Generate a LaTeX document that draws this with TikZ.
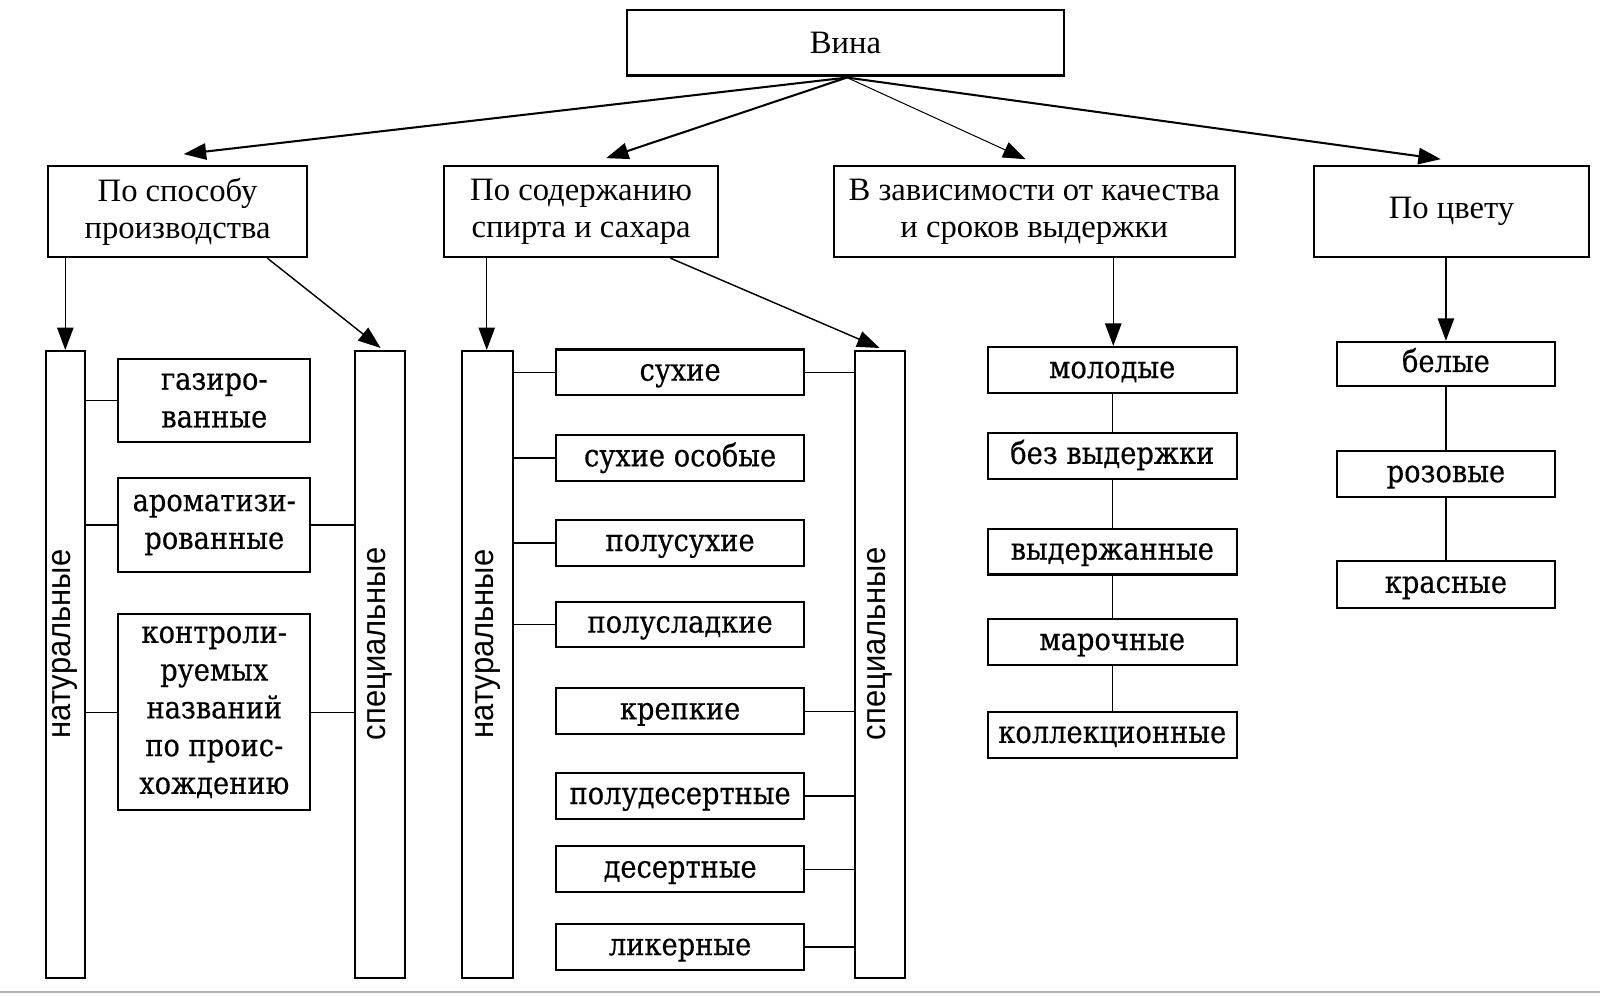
\documentclass[tikz,border=0pt]{standalone}
\usepackage{fontspec}
\setmainfont{Liberation Serif}
\newfontfamily\lowf[FakeStretch=0.88,FakeBold=0.4]{DejaVu Serif}
\newfontfamily\barf[FakeStretch=0.92]{Liberation Sans}
\usetikzlibrary{arrows.meta}
\begin{document}
\begin{tikzpicture}[x=0.5pt,y=-0.5pt,
  box/.style={draw,line width=1pt,inner sep=0pt,align=center},
  topbox/.style={box,font=\fontsize{16pt}{18.5pt}\selectfont},
  lowbox/.style={box,font=\lowf\fontsize{15.2pt}{18.5pt}\selectfont},
  lowone/.style={draw,line width=1pt,inner sep=0pt,text height=11pt,text depth=3pt,font=\lowf\fontsize{15.2pt}{18.5pt}\selectfont},
  bar/.style={draw,line width=1pt,inner sep=0pt},
  bartext/.style={rotate=90,inner sep=0pt,font=\barf\fontsize{16.5pt}{18pt}\selectfont},
  tip/.style={-{Triangle[length=11pt,width=8pt]}},
  arr/.style={line width=1pt,tip},
  thinarr/.style={line width=0.5pt,tip},
  conn/.style={line width=0.7pt}]
\useasboundingbox (0,0) rectangle (1568,976);
\fill[white] (0,0) rectangle (1568,976);
\draw[gray!60,line width=1pt] (0,972) -- (1568,972);

% top
\node[topbox,minimum width=214.5pt,minimum height=32pt] (vina) at (828.5,42) {Вина};
\node[topbox,minimum width=127pt,minimum height=44.5pt] (p1) at (174,207.5) {По способу\\производства};
\node[topbox,minimum width=134.5pt,minimum height=44.5pt] (p2) at (569.5,207.5) {По содержанию\\спирта и сахара};
\node[topbox,minimum width=196.5pt,minimum height=44.5pt] (p3) at (1013.5,207.5) {В зависимости от качества\\и сроков выдержки};
\node[topbox,minimum width=134.5pt,minimum height=44.5pt] (p4) at (1422.5,207.5) {По цвету};

\coordinate (vs) at (830,76);
\coordinate (t1) at (180,151);
\coordinate (t2) at (594,155);
\coordinate (t3) at (1005,156);
\coordinate (t4) at (1412,156);
\draw[arr] (vs) -- (t1);
\draw[arr] (vs) -- (t2);
\draw[thinarr] (vs) -- (t3);
\draw[arr] (vs) -- (t4);

% left group
\node[bar,minimum width=19pt,minimum height=307pt] (n1) at (64,651) {};
\node[bartext] (n1t) at (64,631) {натуральные};
\node[bar,minimum width=24.5pt,minimum height=307pt] (s1) at (372.5,651) {};
\node[bartext] (s1t) at (372.5,631) {специальные};
\node[lowbox,minimum width=94pt,minimum height=40.5pt] (g1) at (210,392.5) {газиро-\\ванные};
\node[lowbox,minimum width=94pt,minimum height=46.5pt] (a1) at (210,514.5) {ароматизи-\\рованные};
\node[lowbox,minimum width=94pt,minimum height=96pt] (k1) at (210,698) {контроли-\\руемых\\названий\\по проис-\\хождению};

\coordinate (p1a) at (64,253);
\coordinate (p1b) at (262,253);
\coordinate (t11) at (64,343);
\coordinate (t12) at (373,341);
\draw[conn,tip] (p1a) -- (t11);
\draw[conn,tip] (p1b) -- (t12);

\draw[conn] (g1.west) -- (g1.west -| n1.east);
\draw[conn] (a1.west) -- (a1.west -| n1.east);
\draw[conn] (k1.west) -- (k1.west -| n1.east);
\draw[conn] (a1.east) -- (a1.east -| s1.west);
\draw[conn] (k1.east) -- (k1.east -| s1.west);

% middle group
\node[bar,minimum width=25pt,minimum height=307pt] (n2) at (478,651) {};
\node[bartext] (n2t) at (478,631) {натуральные};
\node[bar,minimum width=24.5pt,minimum height=307pt] (s2) at (862.5,651) {};
\node[bartext] (s2t) at (862.5,631) {специальные};
\foreach \nm/\yy/\tx in {m1/365/сухие, m2/449/сухие особые, m3/532/полусухие, m4/612/полусладкие, m5/697/крепкие, m6/780/полудесертные, m7/852/десертные, m8/928/ликерные}
  \node[lowone,minimum width=121.5pt,minimum height=22.5pt] (\nm) at (666.5,\yy) {\tx};

\coordinate (p2a) at (477,253);
\coordinate (p2b) at (657,253);
\coordinate (t21) at (477,343);
\coordinate (t22) at (862,341);
\draw[conn,tip] (p2a) -- (t21);
\draw[conn,tip] (p2b) -- (t22);

\foreach \nm in {m1,m2,m3,m4}
  \draw[conn] (\nm.west) -- (\nm.west -| n2.east);
\foreach \nm in {m1,m5,m6,m7,m8}
  \draw[conn] (\nm.east) -- (\nm.east -| s2.west);

% quality group
\foreach \nm/\yy/\tx in {q1/362.5/молодые, q2/446.5/без выдержки, q3/540.5/выдержанные, q4/629/марочные, q5/720/коллекционные}
  \node[lowone,minimum width=122pt,minimum height=22.5pt] (\nm) at (1090,\yy) {\tx};
\coordinate (p3a) at (1091,253);
\draw[conn,tip] (p3a) -- (p3a |- q1.north);
\draw[conn] (q1.south) -- (q2.north) (q2.south) -- (q3.north) (q3.south) -- (q4.north) (q4.south) -- (q5.north);

% colour group
\node[lowone,minimum width=106.5pt,minimum height=21.5pt] (c1) at (1417,356.5) {белые};
\node[lowone,minimum width=106.5pt,minimum height=22.5pt] (c2) at (1417,464.5) {розовые};
\node[lowone,minimum width=106.5pt,minimum height=23pt] (c3) at (1417,573) {красные};
\coordinate (p4a) at (1417,253);
\draw[conn,tip] (p4a) -- (p4a |- c1.north);
\draw[conn] (c1.south) -- (c2.north) (c2.south) -- (c3.north);
\end{tikzpicture}
\end{document}
